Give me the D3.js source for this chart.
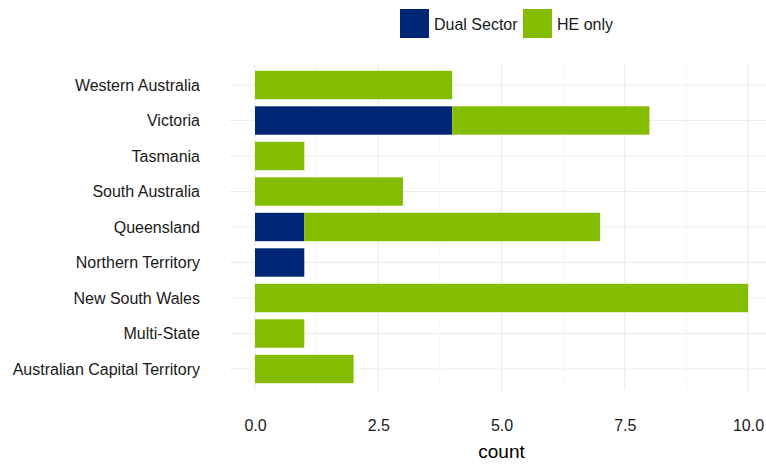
<!DOCTYPE html>
<html>
<head>
<meta charset="utf-8">
<script src="https://cdn.jsdelivr.net/npm/d3@7"></script>
<style>
  body { margin: 0; background: #fff; }
  text { font-family: "Liberation Sans", Arial, sans-serif; }
</style>
</head>
<body>
<div id="chart"></div>
<script>
const states = ['Australian Capital Territory', 'Multi-State', 'New South Wales', 'Northern Territory',
  'Queensland', 'South Australia', 'Tasmania', 'Victoria', 'Western Australia'];
const seriesNames = ['Dual Sector', 'HE only'];
const dualSector = [0, 0, 0, 1, 1, 0, 0, 4, 0];
const heOnly = [2, 1, 10, 0, 6, 3, 1, 4, 4];
const xTicks = [0, 2.5, 5, 7.5, 10];
const colors = ['#002776', '#84bd00'];

const width = 766, height = 464;
const svg = d3.select('#chart').append('svg')
  .attr('width', width).attr('height', height);

// panel
const x = d3.scaleLinear().domain([0, 10]).range([255, 748]);
const panelLeft = 230, panelRight = 766;
const y = d3.scalePoint().domain(states.slice().reverse()).range([85, 369]);
const step = y.step();
const barH = step * 0.8;
const panelTop = 85 - step * 0.6, panelBottom = 369 + step * 0.6;

// grid
const minor = [1.25, 3.75, 6.25, 8.75];
svg.append('g').selectAll('line.minor').data(minor).enter().append('line')
  .attr('x1', d => x(d)).attr('x2', d => x(d))
  .attr('y1', panelTop).attr('y2', panelBottom)
  .attr('stroke', '#f2f2f2').attr('stroke-width', 0.6);
svg.append('g').selectAll('line.major').data(xTicks).enter().append('line')
  .attr('x1', d => x(d)).attr('x2', d => x(d))
  .attr('y1', panelTop).attr('y2', panelBottom)
  .attr('stroke', '#ebebeb').attr('stroke-width', 1.1);
svg.append('g').selectAll('line.h').data(states).enter().append('line')
  .attr('x1', panelLeft).attr('x2', panelRight)
  .attr('y1', d => y(d)).attr('y2', d => y(d))
  .attr('stroke', '#ebebeb').attr('stroke-width', 1.1);

// stacked bars
const rows = states.map((s, i) => ({ state: s, 'Dual Sector': dualSector[i], 'HE only': heOnly[i] }));
const stacked = d3.stack().keys(seriesNames)(rows);

svg.append('g').selectAll('g').data(stacked).enter().append('g')
  .attr('fill', (d, i) => colors[i])
  .selectAll('rect').data(d => d.filter(p => p[1] > p[0])).enter().append('rect')
  .attr('x', d => x(d[0]))
  .attr('width', d => x(d[1]) - x(d[0]))
  .attr('y', d => y(d.data.state) - barH / 2)
  .attr('height', barH);

// axes
const xAxis = d3.axisBottom(x).tickValues(xTicks).tickSize(0).tickPadding(0)
  .tickFormat(d3.format('.1f'));
const gx = svg.append('g').attr('transform', 'translate(0,420)').call(xAxis);
gx.select('.domain').remove();
gx.selectAll('text').attr('dy', '0.71em').attr('y', 0)
  .style('font-size', '16px').attr('fill', '#1a1a1a');

const yAxis = d3.axisLeft(y).tickSize(0).tickPadding(0);
const gy = svg.append('g').attr('transform', 'translate(200,0)').call(yAxis);
gy.select('.domain').remove();
gy.selectAll('text').style('font-size', '16px').attr('fill', '#1a1a1a');

svg.append('text')
  .attr('x', x(5)).attr('y', 458)
  .attr('text-anchor', 'middle')
  .style('font-size', '19px').attr('fill', '#000')
  .text('count');

// legend
const legend = svg.append('g');
const legX = [400, 523];
seriesNames.forEach((name, i) => {
  legend.append('rect')
    .attr('x', legX[i]).attr('y', 9).attr('width', 29).attr('height', 29)
    .attr('fill', colors[i]);
  legend.append('text')
    .attr('x', legX[i] + 34).attr('y', 24).attr('dy', '0.35em')
    .style('font-size', '16px').attr('fill', '#1a1a1a')
    .text(name);
});
</script>
</body>
</html>
